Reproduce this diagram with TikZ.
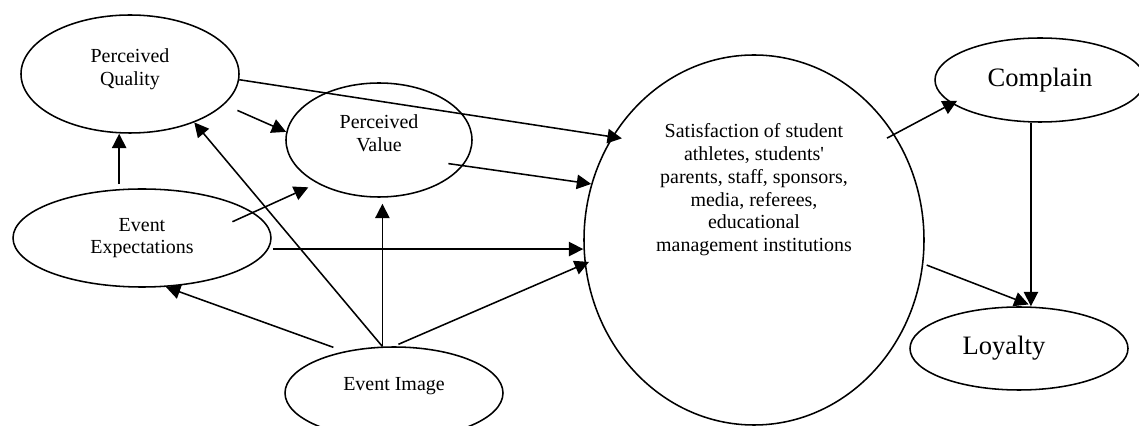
\documentclass[tikz,border=0pt]{standalone}
\usepackage{fontspec}
\setmainfont{Liberation Serif}
\definecolor{dgInk}{HTML}{000000}
\definecolor{dgPaper}{HTML}{FFFFFF}
\usetikzlibrary{arrows.meta,shapes.geometric}

\tikzset{
  ovalnode/.style={draw=dgInk, line width=1.1pt, ellipse, align=center, inner sep=0pt,
    font=\fontsize{14.2}{16.2}\selectfont},
  bigoval/.style={ovalnode, font=\fontsize{18.9}{22}\selectfont},
  arr/.style={draw=dgInk, line width=1.1pt, -{Triangle[length=0.36cm,width=0.36cm]}}
}

\begin{document}
\begin{tikzpicture}
  \fill[dgPaper, use as bounding box] (0,0) rectangle (28.475,10.65);

  % -- Left column --
  \node[ovalnode, minimum width=5.45cm, minimum height=2.95cm, text depth=0.35cm] (pq) at (3.25,8.8) {Perceived\\Quality};
  \node[ovalnode, minimum width=6.45cm, minimum height=2.45cm] (ee) at (3.55,4.7) {Event\\Expectations};

  % -- Middle column --
  \node[ovalnode, minimum width=4.65cm, minimum height=2.85cm, text depth=0.35cm] (pv) at (9.475,7.15) {Perceived\\Value};
  \node[ovalnode, minimum width=5.45cm, minimum height=2.3cm, text depth=0.47cm] (ei) at (9.85,0.825) {Event Image};

  % Big circle
  \node[ovalnode, minimum width=8.5cm, minimum height=9.25cm, text depth=2.61cm] (sat) at (18.85,4.65) {
    Satisfaction of student\\athletes, students\textquotesingle\\parents, staff, sponsors,\\media, referees,\\educational\\management institutions};

  % -- Right column --
  \node[bigoval, minimum width=5.25cm, minimum height=2.1cm] (com) at (26.0,8.65) {Complain};
  \node[bigoval, minimum width=5.45cm, minimum height=2.075cm] (loy) at (25.475,1.9375) {Loyalty\hspace*{0.75cm}};

  % -- Arrows --
  \draw[arr, shorten <=0.12cm] (ee.115) -- (ee.115 |- pq.south);
  \draw[arr, shorten <=0.36cm] (pq.-18) -- (pv.175);
  \draw[arr, shorten >=-0.25cm] (pq.-3) -- (sat.144);
  \draw[arr, shorten <=-0.37cm] (pv.-17) -- (sat.161);
  \draw[arr, shorten <=-0.57cm, shorten >=0.24cm] (ee.13) -- (pv.215);
  \draw[arr, shorten <=0.11cm] (ee.-5) -- (ee.-5 -| sat.west);
  \draw[arr, shorten <=0.29cm] (ei.140) -- (ee.-64);
  \draw[arr] (ei.104) -- (pq.-37);
  \draw[arr, shorten >=0.15cm] (ei.104) -- (ei.104 |- pv.south);
  \draw[arr, shorten <=0.12cm, shorten >=-0.12cm] (ei.north) -- (sat.188);
  \draw[arr, shorten <=-0.21cm, shorten >=-0.15cm] (sat.37) -- (com.195);
  \draw[arr, shorten <=0.09cm, shorten >=0.15cm] (sat.-8) -- (loy.70);
  \draw[arr] (com.258) -- (com.258 |- loy.north);
\end{tikzpicture}
\end{document}
